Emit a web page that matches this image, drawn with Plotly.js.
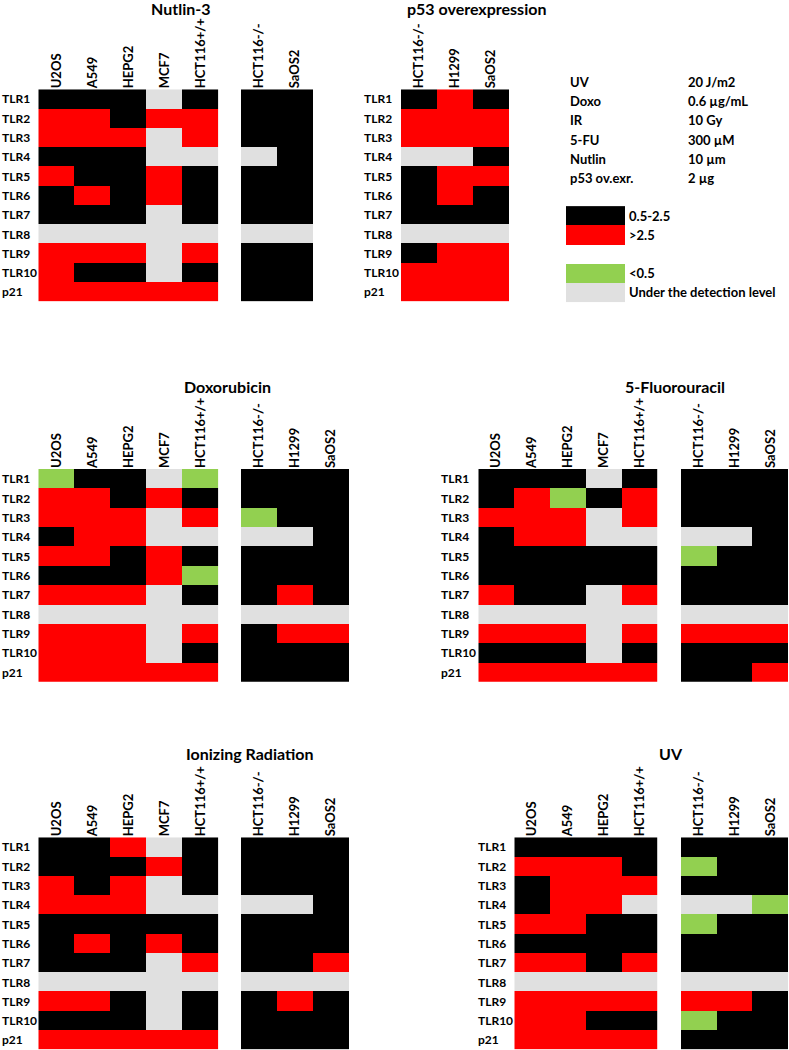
<!DOCTYPE html>
<html>
<head>
<meta charset="utf-8">
<script src="https://cdn.plot.ly/plotly-3.0.1.min.js"></script>
<style>html,body{margin:0;padding:0;background:#fff;}#chart{width:789px;height:1050px;}</style>
</head>
<body>
<div id="chart"></div>
<script>
// ---------------- DATA ----------------
// codes: K = 0.5-2.5 (black), R = >2.5 (red), G = <0.5 (green), N = under detection level (grey)
const rowLabels = ['TLR1','TLR2','TLR3','TLR4','TLR5','TLR6','TLR7','TLR8','TLR9','TLR10','p21'];

const linesFive = ['U2OS','A549','HEPG2','MCF7','HCT116+/+'];
const linesFour = ['U2OS','A549','HEPG2','HCT116+/+'];
const linesNullTwo = ['HCT116-/-','SaOS2'];
const linesNullThree = ['HCT116-/-','H1299','SaOS2'];

const nutlinLeft  = ['KKKNK','RRKRR','RRRNR','KKKNN','RKKRK','KRKRK','KKKNK','NNNNN','RRRNR','RKKNK','RRRRR'];
const nutlinRight = ['KK','KK','KK','NK','KK','KK','KK','NN','KK','KK','KK'];

const p53Over = ['KRK','RRR','RRR','NNK','KRR','KRK','KKK','NNN','KRR','RRR','RRR'];

const doxoLeft  = ['GKKNG','RRKRK','RRRNR','KRRNN','RRKRK','KKKRG','RRRNK','NNNNN','RRRNR','RRRNK','RRRRR'];
const doxoRight = ['KKK','KKK','GKK','NNK','KKK','KKK','KRK','NNN','KRR','KKK','KKK'];

const fuLeft  = ['KKKNK','KRGKR','RRRNR','KRRNN','KKKKK','KKKKK','RKKNR','NNNNN','RRRNR','KKKNK','RRRRR'];
const fuRight = ['KKK','KKK','KKK','NNK','GKK','KKK','KKK','NNN','RRR','KKK','KKR'];

const irLeft  = ['KKRNK','KKKRK','RKRNK','RRRNN','KKKKK','KRKRK','KKKNR','NNNNN','RRKNK','KKKNK','RRRRR'];
const irRight = ['KKK','KKK','KKK','NNK','KKK','KKK','KKR','NNN','KRK','KKK','KKK'];

const uvLeft  = ['KKKK','RRRK','KRRR','KRRN','RRKK','KKKK','RRKR','NNNN','RRRR','RRKK','RRRR'];
const uvRight = ['KKK','GKK','KKK','NNG','GKK','KKK','KKK','NNN','RRK','GKK','KKK'];

const panelTitles = ['Nutlin-3','p53 overexpression','Doxorubicin','5-Fluorouracil','Ionizing Radiation','UV'];

const treatmentNames = ['UV','Doxo','IR','5-FU','Nutlin','p53 ov.exr.'];
const treatmentDoses = ['20 J/m2','0.6 µg/mL','10 Gy','300 µM','10 µm','2 µg'];

const legendCodes  = ['K','R',null,'G','N'];
const legendLabels = ['0.5-2.5','>2.5','','<0.5','Under the detection level'];

// ---------------- RENDER ----------------
const CODE = {K:0, R:1, G:2, N:3};
const toZ = rows => rows.map(r => r.split('').map(c => CODE[c]));
const colorscale = [[0,'#000000'],[0.1667,'#000000'],[0.1667,'#ff0000'],[0.5,'#ff0000'],
                    [0.5,'#92d050'],[0.8333,'#92d050'],[0.8333,'#e0e0e0'],[1,'#e0e0e0']];

const W = 789, H = 1050;
const px = v => v / W;
const py = v => 1 - v / H;
const FONT = 'Lato, "Open Sans", sans-serif';
const txtFont = {family: FONT, size: 13, color: '#000', weight: 700};
const rowFont = {family: FONT, size: 12, color: '#000', weight: 700};

const rowsA = [89.3, 301.6], rowsB = [469, 681.7], rowsC = [837.3, 1049.6];
const blocks = [
  {cols: linesFive,      data: nutlinLeft,  x: [38.3, 218.3], y: rowsA, labelX: 0},
  {cols: linesNullTwo,   data: nutlinRight, x: [241, 313],    y: rowsA},
  {cols: linesNullThree, data: p53Over,     x: [401, 509.3],  y: rowsA, labelX: 362},
  {cols: linesFive,      data: doxoLeft,    x: [38.3, 218.3], y: rowsB, labelX: 0},
  {cols: linesNullThree, data: doxoRight,   x: [241, 349],    y: rowsB},
  {cols: linesFive,      data: fuLeft,      x: [478.3, 657.7],y: rowsB, labelX: 439},
  {cols: linesNullThree, data: fuRight,     x: [681, 788.3],  y: rowsB},
  {cols: linesFive,      data: irLeft,      x: [38.3, 218.3], y: rowsC, labelX: 0},
  {cols: linesNullThree, data: irRight,     x: [241, 349],    y: rowsC},
  {cols: linesFour,      data: uvLeft,      x: [514.3, 657.7],y: rowsC, labelX: 475.5},
  {cols: linesNullThree, data: uvRight,     x: [681, 788.3],  y: rowsC}
];
const titlePos = [[180, 8.5], [477, 8], [228, 386], [675, 386], [250, 753], [671, 753]];

const traces = [];
const layout = {
  width: W, height: H,
  margin: {l: 0, r: 0, t: 0, b: 0},
  paper_bgcolor: '#fff', plot_bgcolor: 'rgba(0,0,0,0)',
  showlegend: false,
  annotations: []
};

function axisCommon() {
  return {showgrid: false, zeroline: false, showline: false, automargin: false, fixedrange: true};
}

blocks.forEach((b, i) => {
  const n = i + 1;
  const xs = n === 1 ? '' : String(n);
  traces.push({
    type: 'heatmap',
    x: b.cols, y: rowLabels, z: toZ(b.data),
    xaxis: 'x' + xs, yaxis: 'y' + xs,
    colorscale: colorscale, zmin: 0, zmax: 3,
    showscale: false, hoverinfo: 'skip', xgap: 0, ygap: 0
  });
  layout['xaxis' + xs] = Object.assign(axisCommon(), {
    domain: [px(b.x[0]), px(b.x[1])], anchor: 'y' + xs, side: 'top',
    type: 'category', tickangle: -90, ticks: '', ticklabelstandoff: 0,
    tickfont: txtFont
  });
  layout['yaxis' + xs] = Object.assign(axisCommon(), {
    domain: [py(b.y[1]), py(b.y[0])], anchor: 'x' + xs,
    type: 'category', autorange: 'reversed', showticklabels: false, ticks: ''
  });
  if (b.labelX !== undefined) {
    rowLabels.forEach(r => {
      layout.annotations.push({
        xref: 'paper', yref: 'y' + xs, x: px(b.labelX), y: r,
        xanchor: 'left', yanchor: 'middle', text: r, showarrow: false, font: rowFont
      });
    });
  }
});

// Legend swatches
const ln = blocks.length + 1;
traces.push({
  type: 'heatmap',
  x: ['swatch'], y: legendCodes.map((_, i) => i),
  z: legendCodes.map(c => [c === null ? null : CODE[c]]),
  xaxis: 'x' + ln, yaxis: 'y' + ln,
  colorscale: colorscale, zmin: 0, zmax: 3, showscale: false, hoverinfo: 'skip'
});
layout['xaxis' + ln] = Object.assign(axisCommon(), {
  domain: [px(566), px(625)], anchor: 'y' + ln, showticklabels: false, ticks: ''
});
layout['yaxis' + ln] = Object.assign(axisCommon(), {
  domain: [py(302.2), py(205.7)], anchor: 'x' + ln, autorange: 'reversed',
  showticklabels: false, ticks: ''
});
legendLabels.forEach((t, i) => {
  if (!t) return;
  layout.annotations.push({
    xref: 'paper', yref: 'y' + ln, x: px(626.5), y: i,
    xanchor: 'left', yanchor: 'middle', text: t, showarrow: false, font: txtFont
  });
});

// Treatment table
treatmentNames.forEach((t, i) => {
  const yy = py(81.7 + i * 19.3);
  layout.annotations.push({xref: 'paper', yref: 'paper', x: px(567.5), y: yy,
    xanchor: 'left', yanchor: 'middle', text: t, showarrow: false, font: txtFont});
  layout.annotations.push({xref: 'paper', yref: 'paper', x: px(686), y: yy,
    xanchor: 'left', yanchor: 'middle', text: treatmentDoses[i], showarrow: false, font: txtFont});
});

// Panel titles
panelTitles.forEach((t, i) => {
  layout.annotations.push({xref: 'paper', yref: 'paper', x: px(titlePos[i][0]), y: py(titlePos[i][1]),
    xanchor: 'center', yanchor: 'middle', text: t, showarrow: false,
    font: {family: FONT, size: 16, color: '#000', weight: 700}});
});

Plotly.newPlot('chart', traces, layout, {staticPlot: true, displayModeBar: false});
</script>
</body>
</html>
